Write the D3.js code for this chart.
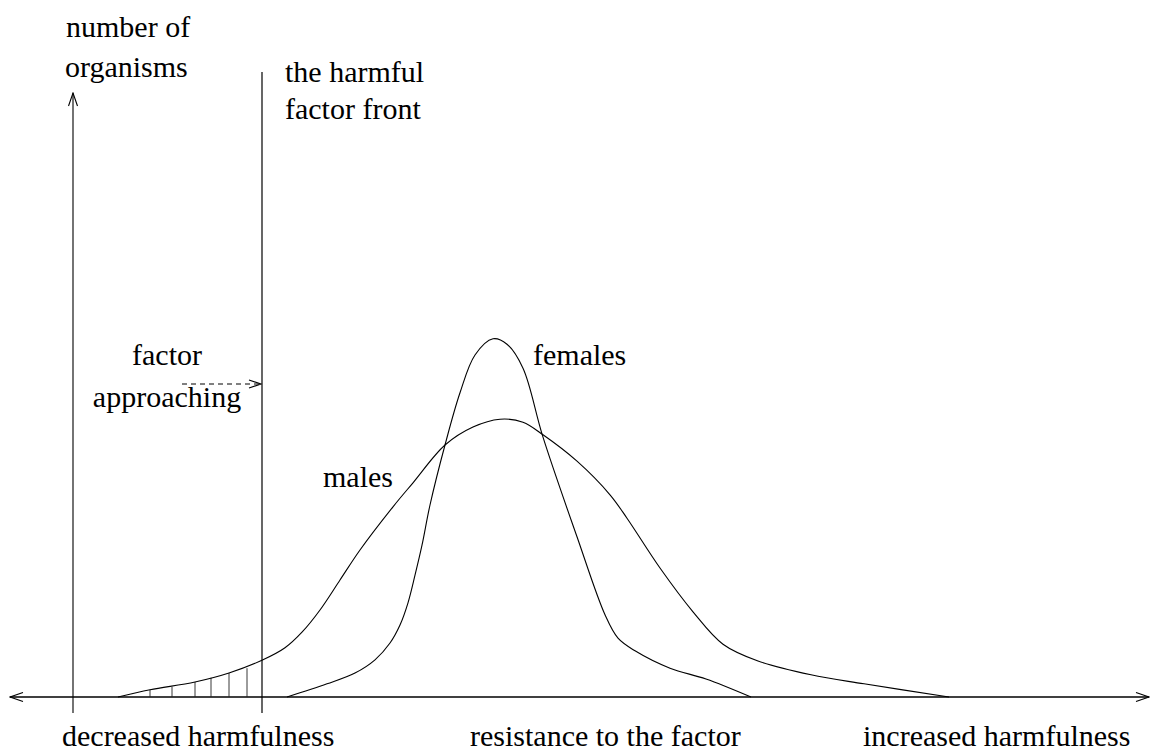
<!DOCTYPE html>
<html>
<head>
<meta charset="utf-8">
<script src="https://cdn.jsdelivr.net/npm/d3@7"></script>
<style>
  html, body { margin: 0; padding: 0; background: #fff; }
  svg { display: block; }
</style>
</head>
<body>
<svg id="chart" width="1152" height="755"></svg>
<script>
// ---- data (resistance units 0..100, count units 0..100) ----
const malesResistance = [4.5, 7.7, 12.2, 15.6, 19.0, 21.2, 22.9, 24.7, 26.7, 28.7, 32.0, 34.0, 37.2, 40.0, 42.7, 45.0, 47.0, 50.4, 53.7, 55.4, 58.7, 62.0, 65.0, 68.5, 73.8, 79.1, 87.6];
const malesCount      = [0.0, 1.2, 2.5, 4.0, 6.2, 8.2, 10.8, 14.5, 19.5, 24.5, 31.7, 35.7, 42.0, 45.0, 46.3, 45.8, 43.7, 39.3, 33.7, 29.8, 21.5, 14.2, 8.8, 6.0, 3.7, 2.2, 0.0];
const femalesResistance = [21.4, 25.4, 28.2, 30.2, 31.7, 32.7, 33.5, 34.2, 34.9, 35.7, 37.2, 38.7, 40.2, 42.0, 43.4, 45.0, 47.0, 50.4, 53.2, 54.5, 56.2, 59.7, 63.3, 67.8];
const femalesCount      = [0.0, 2.2, 4.0, 6.2, 9.0, 12.0, 15.7, 20.3, 25.3, 32.0, 42.0, 50.7, 57.0, 59.7, 58.8, 54.8, 43.3, 26.7, 13.7, 9.8, 7.7, 4.8, 3.0, 0.0];
const hatchResistance = [7.7, 9.9, 12.2, 13.8, 15.6, 17.4];
const hatchCount      = [1.2, 1.7, 2.5, 3.2, 4.0, 4.8];
const frontPosition = 18.9;
const axisLabels = ["decreased harmfulness", "resistance to the factor", "increased harmfulness"];
const yAxisLabel = ["number of", "organisms"];
const frontLabel = ["the harmful", "factor front"];
const approachLabel = ["factor", "approaching"];
const seriesLabels = ["males", "females"];

// ---- scales ----
const x = d3.scaleLinear().domain([0, 100]).range([73, 1073]);
const y = d3.scaleLinear().domain([0, 100]).range([697, 97]);

const svg = d3.select("#chart");
svg.append("rect").attr("width", 1152).attr("height", 755).attr("fill", "#fff");

const defs = svg.append("defs");
function marker(id, len, hw) {
  defs.append("marker")
    .attr("id", id)
    .attr("markerUnits", "userSpaceOnUse")
    .attr("viewBox", `0 0 ${len + 2} ${hw * 2 + 2}`)
    .attr("refX", len + 1).attr("refY", hw + 1)
    .attr("markerWidth", len + 2).attr("markerHeight", hw * 2 + 2)
    .attr("orient", "auto-start-reverse")
    .append("path")
    .attr("d", `M1,1 L${len + 1},${hw + 1} L1,${hw * 2 + 1}`)
    .attr("fill", "none").attr("stroke", "#000").attr("stroke-width", 1.1);
}
marker("arrowAxis", 13, 4.5);
marker("arrowSmall", 12, 4);

const y0 = y(0);

svg.append("line")
  .attr("x1", 10).attr("x2", 1149)
  .attr("y1", y0).attr("y2", y0)
  .attr("stroke", "#000").attr("stroke-width", 1.4)
  .attr("marker-start", "url(#arrowAxis)")
  .attr("marker-end", "url(#arrowAxis)");

svg.append("line")
  .attr("x1", x(0)).attr("x2", x(0))
  .attr("y1", y0 + 16).attr("y2", 93)
  .attr("stroke", "#000").attr("stroke-width", 1.1)
  .attr("marker-end", "url(#arrowAxis)");

svg.append("line")
  .attr("x1", x(frontPosition)).attr("x2", x(frontPosition))
  .attr("y1", y0 + 16).attr("y2", 72)
  .attr("stroke", "#000").attr("stroke-width", 1.2);

svg.selectAll("line.hatch")
  .data(hatchResistance.map((r, i) => [r, hatchCount[i]]))
  .join("line")
  .attr("class", "hatch")
  .attr("x1", d => x(d[0])).attr("x2", d => x(d[0]))
  .attr("y1", y0).attr("y2", d => y(d[1]))
  .attr("stroke", "#222").attr("stroke-width", 0.9);

const line = d3.line().x(d => x(d[0])).y(d => y(d[1])).curve(d3.curveCatmullRom.alpha(0.5));
const males = malesResistance.map((r, i) => [r, malesCount[i]]);
const females = femalesResistance.map((r, i) => [r, femalesCount[i]]);
svg.append("path").attr("d", line(males)).attr("fill", "none").attr("stroke", "#000").attr("stroke-width", 1.1);
svg.append("path").attr("d", line(females)).attr("fill", "none").attr("stroke", "#000").attr("stroke-width", 1.1);

svg.append("line")
  .attr("x1", 182).attr("x2", x(frontPosition) - 1)
  .attr("y1", 384).attr("y2", 384)
  .attr("stroke", "#000").attr("stroke-width", 1)
  .attr("stroke-dasharray", "5,4")
  .attr("marker-end", "url(#arrowSmall)");

const T = (txt, tx, ty, anchor) => svg.append("text")
  .attr("x", tx).attr("y", ty)
  .attr("text-anchor", anchor || "start")
  .attr("font-family", "'Liberation Serif', 'DejaVu Serif', serif")
  .attr("font-size", 30)
  .attr("fill", "#000")
  .text(txt);
T(yAxisLabel[0], 66, 37);
T(yAxisLabel[1], 65, 77);
T(frontLabel[0], 285, 82);
T(frontLabel[1], 285, 119);
T(approachLabel[0], 167, 365, "middle");
T(approachLabel[1], 167, 407, "middle");
T(seriesLabels[1], 533, 365);
T(seriesLabels[0], 323, 487);
T(axisLabels[0], 62, 746);
T(axisLabels[1], 470, 746);
T(axisLabels[2], 863, 746);
</script>
</body>
</html>
